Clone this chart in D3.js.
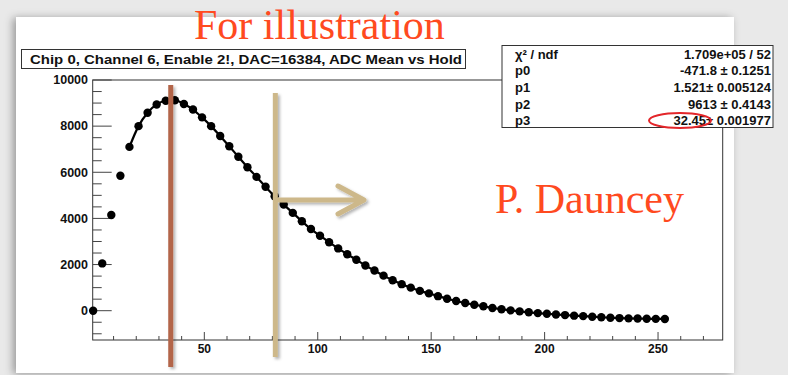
<!DOCTYPE html>
<html>
<head>
<meta charset="utf-8">
<script src="https://cdn.jsdelivr.net/npm/d3@7"></script>
<style>
  body { margin: 0; background: #e9e9e9; }
  svg { display: block; }
</style>
</head>
<body>
<div id="chart"></div>
<script>
// ADC mean vs hold
var HOLD = [1, 5, 9, 13, 17, 21, 25, 29, 33, 37, 41, 45, 49, 53, 57, 61,
  65, 69, 73, 77, 81, 85, 89, 93, 97, 101, 105, 109, 113, 117, 121, 125,
  129, 133, 137, 141, 145, 149, 153, 157, 161, 165, 169, 173, 177, 181, 185, 189,
  193, 197, 201, 205, 209, 213, 217, 221, 225, 229, 233, 237, 241, 245, 249, 253];
var ADC = [0, 2050, 4150, 5850, 7100, 8000, 8580, 8940, 9100, 9120, 8960, 8720, 8380, 8000, 7570, 7130,
  6670, 6220, 5800, 5370, 4960, 4600, 4240, 3880, 3540, 3250, 2970, 2700, 2450, 2210, 1960, 1740,
  1520, 1320, 1150, 1000, 860, 750, 630, 520, 420, 335, 260, 190, 120, 65, 15, -30,
  -70, -105, -135, -165, -190, -215, -235, -260, -285, -305, -320, -332, -340, -348, -354, -360];
var FIT_FROM = 17;

var Y_MAJOR = [0, 2000, 4000, 6000, 8000, 10000];
var Y_MINOR = [-1000, -500, 500, 1000, 1500, 2500, 3000, 3500, 4500, 5000, 5500, 6500, 7000, 7500, 8500, 9000, 9500];
var X_MAJOR = [50, 100, 150, 200, 250];
var X_MINOR = [10, 20, 30, 40, 60, 70, 80, 90, 110, 120, 130, 140, 160, 170, 180, 190, 210, 220, 230, 240, 260, 270];

var TITLE = "Chip 0, Channel 6, Enable 2!, DAC=16384, ADC Mean vs Hold";
var STAT_NAMES = ["\u03c7\u00b2 / ndf", "p0", "p1", "p2", "p3"];
var STAT_VALUES = ["1.709e+05 / 52", "-471.8 \u00b1 0.1251", "1.521\u00b1 0.005124", "9613 \u00b1 0.4143", "32.45\u00b1 0.001977"];
var MARKS = [35.2, 81.3]; // hold values of the two hand drawn lines

var data = HOLD.map(function(h, i) { return {hold: h, adc: ADC[i]}; });

var W = 788, H = 375;
var frame = {left: 92.7, right: 722.7, top: 80, bottom: 340};
var SANS = "Liberation Sans, Arial, sans-serif";

var x = d3.scaleLinear().domain([0.8, 278.5]).range([frame.left, frame.right]);
var y = d3.scaleLinear().domain([-1270, 10000]).range([frame.bottom, frame.top]);

var svg = d3.select("#chart").append("svg").attr("width", W).attr("height", H);

var defs = svg.append("defs");
var sh = defs.append("filter").attr("id", "shadow").attr("filterUnits", "userSpaceOnUse")
  .attr("x", 0).attr("y", 0).attr("width", W).attr("height", H);
sh.append("feDropShadow").attr("dx", 2).attr("dy", 2).attr("stdDeviation", 1.5).attr("flood-color", "#000").attr("flood-opacity", 0.3);
var psh = defs.append("filter").attr("id", "pshadow").attr("filterUnits", "userSpaceOnUse")
  .attr("x", 0).attr("y", 0).attr("width", W).attr("height", H);
psh.append("feDropShadow").attr("dx", -3).attr("dy", 1).attr("stdDeviation", 4).attr("flood-color", "#000").attr("flood-opacity", 0.35);

// white slide panel
svg.append("rect").attr("x", 16).attr("y", 17).attr("width", 718).attr("height", 356)
  .attr("fill", "#fff").attr("filter", "url(#pshadow)");

// frame
svg.append("rect").attr("x", frame.left).attr("y", frame.top)
  .attr("width", frame.right - frame.left).attr("height", frame.bottom - frame.top)
  .attr("fill", "none").attr("stroke", "#333").attr("stroke-width", 1);

var ax = svg.append("g").attr("stroke", "#444").attr("stroke-width", 1);
ax.selectAll(".ymaj").data(Y_MAJOR).enter().append("line")
  .attr("x1", frame.left).attr("x2", frame.left + 19)
  .attr("y1", function(d) { return y(d); }).attr("y2", function(d) { return y(d); });
ax.selectAll(".ymin").data(Y_MINOR).enter().append("line")
  .attr("x1", frame.left).attr("x2", frame.left + 9)
  .attr("y1", function(d) { return y(d); }).attr("y2", function(d) { return y(d); });
ax.selectAll(".xmaj").data(X_MAJOR).enter().append("line")
  .attr("x1", function(d) { return x(d); }).attr("x2", function(d) { return x(d); })
  .attr("y1", frame.bottom).attr("y2", frame.bottom - 8);
ax.selectAll(".xmin").data(X_MINOR).enter().append("line")
  .attr("x1", function(d) { return x(d); }).attr("x2", function(d) { return x(d); })
  .attr("y1", frame.bottom).attr("y2", frame.bottom - 4);

svg.selectAll(".ylab").data(Y_MAJOR).enter().append("text")
  .attr("x", 88).attr("y", function(d) { return y(d) + 4.3; })
  .attr("text-anchor", "end").attr("font-family", SANS)
  .attr("font-weight", "bold").attr("font-size", "12.5px").attr("fill", "#111")
  .text(function(d) { return d; });
svg.selectAll(".xlab").data(X_MAJOR).enter().append("text")
  .attr("x", function(d) { return x(d); }).attr("y", 352.5)
  .attr("text-anchor", "middle").attr("font-family", SANS)
  .attr("font-weight", "bold").attr("font-size", "12px").attr("fill", "#111")
  .text(function(d) { return d; });

// fit curve and points
var line = d3.line().x(function(d) { return x(d.hold); }).y(function(d) { return y(d.adc); })
  .curve(d3.curveMonotoneX);
svg.append("path").datum(data.filter(function(d) { return d.hold >= FIT_FROM; }))
  .attr("d", line).attr("fill", "none").attr("stroke", "#000").attr("stroke-width", 2.2);
svg.selectAll(".dot").data(data).enter().append("circle")
  .attr("cx", function(d) { return x(d.hold); }).attr("cy", function(d) { return y(d.adc); })
  .attr("r", 4.2).attr("fill", "#000");

// title box
svg.append("rect").attr("x", 21.5).attr("y", 49.5).attr("width", 444).attr("height", 19)
  .attr("fill", "#fff").attr("stroke", "#333");
svg.append("text").attr("x", 30).attr("y", 64).attr("font-family", SANS)
  .attr("font-weight", "bold").attr("font-size", "13px").attr("fill", "#111")
  .attr("textLength", 432).attr("lengthAdjust", "spacingAndGlyphs").text(TITLE);

// stats box
svg.append("rect").attr("x", 502).attr("y", 45.5).attr("width", 271).attr("height", 82)
  .attr("fill", "#fff").attr("stroke", "#333");
STAT_NAMES.forEach(function(n, i) {
  var by = 58.5 + i * 16.7;
  svg.append("text").attr("x", 515).attr("y", by).attr("font-family", SANS)
    .attr("font-weight", "bold").attr("font-size", "13px").attr("fill", "#111").text(n);
  svg.append("text").attr("x", 771).attr("y", by).attr("text-anchor", "end")
    .attr("font-family", SANS)
    .attr("font-weight", "bold").attr("font-size", "13px").attr("fill", "#111").text(STAT_VALUES[i]);
});
// red ring round p3
svg.append("ellipse").attr("cx", 680).attr("cy", 120.5).attr("rx", 31).attr("ry", 7.5)
  .attr("fill", "none").attr("stroke", "#e3262a").attr("stroke-width", 2);

// hand drawn marks
svg.append("line").attr("x1", x(MARKS[0])).attr("x2", x(MARKS[0])).attr("y1", 85).attr("y2", 367)
  .attr("stroke", "#b3654a").attr("stroke-width", 5).attr("filter", "url(#shadow)");
var tan = svg.append("g").attr("stroke", "#cdb88a").attr("stroke-width", 5).attr("fill", "none")
  .attr("stroke-linecap", "round").attr("stroke-linejoin", "round").attr("filter", "url(#shadow)");
tan.append("line").attr("x1", x(MARKS[1])).attr("x2", x(MARKS[1])).attr("y1", 93).attr("y2", 357)
  .attr("stroke-linecap", "butt");
tan.append("path").attr("d", "M" + (x(MARKS[1]) + 3) + ",200 L363,200 M338,186 L364,200 L338,214");

// slide texts
svg.append("text").attr("x", 194).attr("y", 39).attr("font-family", "Liberation Serif, Times New Roman, serif")
  .attr("font-size", "42px").attr("fill", "#ff4a1f").text("For illustration");
svg.append("text").attr("x", 495).attr("y", 213).attr("font-family", "Liberation Serif, Times New Roman, serif")
  .attr("font-size", "42px").attr("fill", "#ff4a1f").text("P. Dauncey");
</script>
</body>
</html>
